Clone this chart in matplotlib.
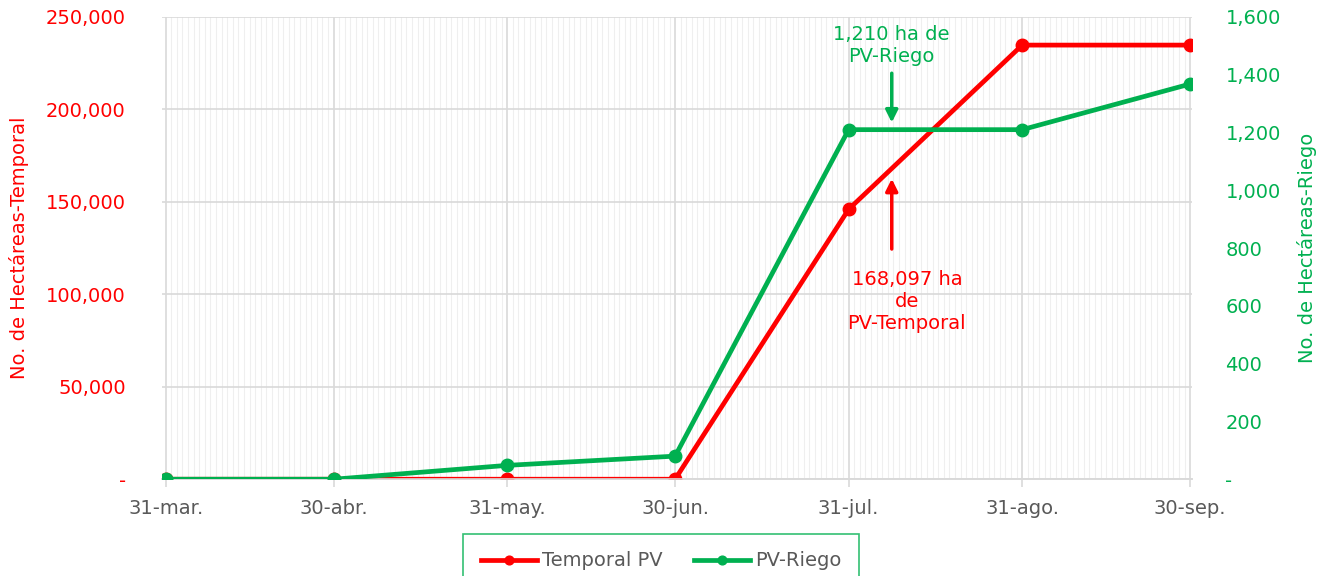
import datetime as dt
import matplotlib
matplotlib.use("Agg")
import matplotlib.pyplot as plt
import matplotlib.dates as mdates
from matplotlib.ticker import FuncFormatter, MultipleLocator

plt.rcParams['font.family'] = ['DejaVu Sans']

# data
fechas = [dt.date(2023, 3, 31), dt.date(2023, 4, 30), dt.date(2023, 5, 31),
          dt.date(2023, 6, 30), dt.date(2023, 7, 31), dt.date(2023, 8, 31),
          dt.date(2023, 9, 30)]
etiquetas = ["31-mar.", "30-abr.", "31-may.", "30-jun.", "31-jul.", "31-ago.", "30-sep."]
temporal_pv = [0, 0, 0, 0, 146000, 234800, 234800]
pv_riego = [0, 0, 48, 80, 1210, 1210, 1368]

rojo = "#FF0000"
verde = "#00B050"
gris = "#595959"
fs = 14

fig = plt.figure(figsize=(13.26, 5.76), dpi=100)
ax = fig.add_axes([0.122, 0.168, 0.777, 0.8025])
ax2 = ax.twinx()

x = mdates.date2num(fechas)
ax.plot(x, temporal_pv, "-o", color=rojo, lw=3.4, ms=9, label="Temporal PV", zorder=3)
ax2.plot(x, pv_riego, "-o", color=verde, lw=3.4, ms=9, label="PV-Riego", zorder=3)

ax.set_xlim(x[0] - 0.7, x[-1] + 0.35)
ax.set_ylim(0, 250000)
ax2.set_ylim(0, 1600)

ax.xaxis.set_major_locator(matplotlib.ticker.FixedLocator(x))
ax.set_xticklabels(etiquetas)
ax.xaxis.set_minor_locator(mdates.DayLocator())
ax.yaxis.set_major_locator(MultipleLocator(50000))
ax2.yaxis.set_major_locator(MultipleLocator(200))

fmt = lambda v, p: "-" if v == 0 else "{:,.0f}".format(v)
ax.yaxis.set_major_formatter(FuncFormatter(fmt))
ax2.yaxis.set_major_formatter(FuncFormatter(fmt))

ax.grid(True, which="major", color="#D9D9D9", lw=1.2)
ax.grid(True, which="minor", axis="x", color="#EFEFEF", lw=0.8)
ax.set_axisbelow(True)

for a in (ax, ax2):
    for s in ("top", "right", "left"):
        a.spines[s].set_visible(False)
    a.spines["bottom"].set_color("#D9D9D9")
    a.spines["bottom"].set_linewidth(1.2)

ax.tick_params(axis="x", which="major", colors="#D9D9D9", length=6, width=1.2, pad=8,
               labelcolor=gris, labelsize=fs)
ax.tick_params(axis="x", which="minor", length=0)
ax.tick_params(axis="y", length=0, pad=26, labelcolor=rojo, labelsize=fs)
ax2.tick_params(axis="y", length=0, pad=24, labelcolor=verde, labelsize=fs)

ax.set_ylabel("No. de Hectáreas-Temporal", color=rojo, fontsize=fs, labelpad=12)
ax2.set_ylabel("No. de Hectáreas-Riego", color=verde, fontsize=fs, labelpad=12)

# annotations
xa = mdates.date2num(dt.date(2023, 8, 8)) - 0.3
ax2.annotate("", xy=(xa, 1225), xytext=(xa, 1415),
             arrowprops=dict(arrowstyle="-|>", color=verde, lw=2.5, mutation_scale=18))
ax2.text(xa, 1503, "1,210 ha de\nPV-Riego", color=verde, fontsize=fs,
         ha="center", va="center", linespacing=1.2)
ax.annotate("", xy=(xa, 164000), xytext=(xa, 123000),
            arrowprops=dict(arrowstyle="-|>", color=rojo, lw=2.5, mutation_scale=18))
ax.text(xa + 2.7, 96000, "168,097 ha\nde\nPV-Temporal", color=rojo, fontsize=fs,
        ha="center", va="center", linespacing=1.2)

h1, l1 = ax.get_legend_handles_labels()
h2, l2 = ax2.get_legend_handles_labels()
leg = fig.legend(h1 + h2, l1 + l2, loc="upper center", bbox_to_anchor=(0.4985, 0.073),
                 ncol=2, frameon=True, fancybox=False, fontsize=fs, handlelength=2.9,
                 handletextpad=0.25, markerscale=0.7,
                 columnspacing=1.6, borderpad=0.9, borderaxespad=0)
leg.get_frame().set_edgecolor(verde)
leg.get_frame().set_linewidth(1.2)
for t in leg.get_texts():
    t.set_color(gris)

fig.savefig("out.png", dpi=100)
